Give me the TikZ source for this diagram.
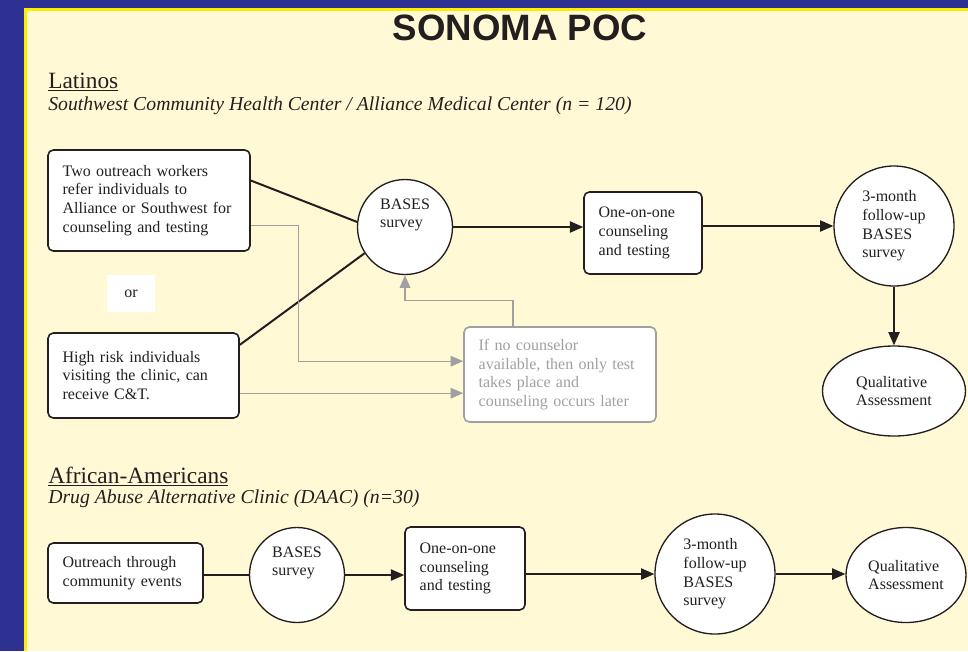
\documentclass[tikz,border=0pt]{standalone}
\usepackage{fontspec}
\setmainfont{Liberation Serif}
\newfontfamily\headfont{Liberation Sans}
\usepackage{xcolor}
\usepackage{tikz}
\usetikzlibrary{shapes.geometric,arrows.meta}
\definecolor{pocblue}{RGB}{46,49,146}
\definecolor{pocyellow}{RGB}{255,237,0}
\definecolor{poccream}{RGB}{255,250,213}
\definecolor{laterline}{RGB}{160,160,160}
\definecolor{inkblack}{RGB}{35,31,32}

\begin{document}
\begin{tikzpicture}[x=0.75pt,y=-0.75pt,font=\fontsize{12}{14}\selectfont,text=inkblack,
  flowbox/.style={draw=inkblack,line width=1.2pt,fill=white,rounded corners=4pt,align=left,inner xsep=11pt},
  survey/.style={draw=inkblack,line width=1pt,fill=white,circle,align=left,inner sep=0pt},
  assess/.style={draw=inkblack,line width=1pt,fill=white,ellipse,align=left,inner sep=0pt},
  flow/.style={draw=inkblack,line width=1pt,-{Triangle[length=10pt,width=8.5pt]}},
  later/.style={draw=laterline,line width=0.9pt,-{Triangle[length=9.5pt,width=8pt]}},
  heading/.style={anchor=base west,inner sep=0pt,font=\fontsize{17.5}{20}\selectfont},
  site/.style={anchor=base west,inner sep=0pt,font=\itshape\fontsize{14.8}{17}\selectfont}]

% Slide background
\useasboundingbox (0,0) rectangle (968,651);
\fill[pocblue] (0,0) rectangle (968,651);
\fill[pocyellow] (24,8) rectangle (968,651);
\fill[poccream] (27,11) rectangle (968,651);

\node[font=\headfont\bfseries\fontsize{27.5}{30}\selectfont,anchor=base] (title) at (520,40) {SONOMA POC};

% === Latinos ===
\node[heading] (latinos) at (48,88) {\underline{Latinos}};
\node[site] (latsite) at (48,110) {Southwest Community Health Center / Alliance Medical Center (n = 120)};

\node[flowbox,minimum width=151.5pt,minimum height=75.75pt,text width=129.5pt] (refer) at (149,200.5) {Two outreach workers\\refer individuals to\\Alliance or Southwest for\\counseling and testing};
\node[fill=white,minimum width=36pt,minimum height=27.75pt] (or) at (131,293.5) {or};
\node[flowbox,minimum width=143.25pt,minimum height=63.75pt,text width=121.25pt] (visit) at (143.5,375.5) {High risk individuals\\visiting the clinic, can\\receive C\&T.};

\node[survey,minimum size=71.25pt,label={[align=left,yshift=9pt]center:BASES\\survey}] (bases) at (405,227) {};
\node[flowbox,minimum width=88.5pt,minimum height=61.5pt,text width=66.5pt] (counsel) at (643,233) {One-on-one\\counseling\\and testing};
\node[survey,minimum size=90pt] (followup) at (894,226) {3-month\\follow-up\\BASES\\survey};
\node[assess,minimum width=107.25pt,minimum height=67.5pt] (quali) at (894,391) {Qualitative\\Assessment};

\node[flowbox,draw=laterline,text=laterline,minimum width=144pt,minimum height=71.25pt,text width=122pt] (notest) at (560,374.5) {If no counselor\\available, then only test\\takes place and\\counseling occurs later};

% referrals into the survey
\draw[inkblack,line width=1.5pt] ([yshift=15pt]refer.east) -- (bases.174);
\draw[inkblack,line width=1.5pt] ([yshift=23pt]visit.east) -- (bases.213);
\draw[flow] (bases.east) -- (bases.east -| counsel.west);
\draw[flow] (followup.west -| counsel.east) -- (followup.west);
\draw[flow] (followup.south) -- (quali.north);

% test now, counsel later
\coordinate (referout) at ([yshift=-19pt]refer.east);
\coordinate (notestin) at ([yshift=10pt]notest.west);
\coordinate (notestlow) at ([yshift=-14pt]notest.west);
\draw[later] (referout) -- ++(48,0) |- (notestin);
\draw[later] (visit.east |- notestlow) -- (notestlow);
\draw[later] ([xshift=-35.25pt]notest.north) -- ++(0,-26) -| (bases.south);

% === African-Americans ===
\node[heading] (afram) at (48,483) {\underline{African-Americans}};
\node[site] (daac) at (48,503) {Drug Abuse Alternative Clinic (DAAC) (n=30)};

\node[flowbox,minimum width=116.25pt,minimum height=45pt,text width=94.25pt] (events) at (125.5,573) {Outreach through\\community events};
\node[survey,minimum size=71.25pt,label={[align=left,yshift=9pt]center:BASES\\survey}] (bases2) at (297,575) {};
\node[flowbox,minimum width=90pt,minimum height=62.25pt,text width=68pt] (counsel2) at (465,568.5) {One-on-one\\counseling\\and testing};
\node[survey,minimum size=90pt] (followup2) at (715,574) {3-month\\follow-up\\BASES\\survey};
\node[assess,minimum width=90pt,minimum height=71.25pt] (quali2) at (906,575) {Qualitative\\Assessment};

\draw[inkblack,line width=1pt] (bases2.west -| events.east) -- (bases2.west);
\draw[flow] (bases2.east) -- (bases2.east -| counsel2.west);
\draw[flow] (followup2.west -| counsel2.east) -- (followup2.west);
\draw[flow] (followup2.east) -- (followup2.east -| quali2.west);

\end{tikzpicture}
\end{document}
